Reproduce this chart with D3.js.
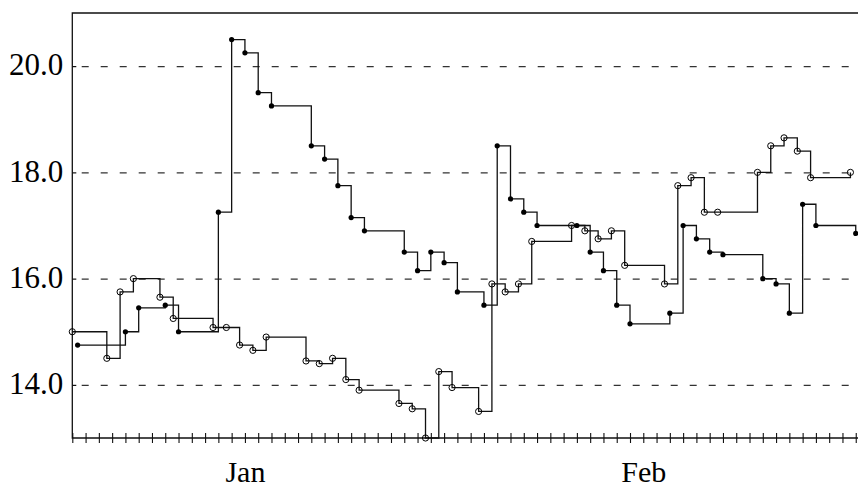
<!DOCTYPE html>
<html>
<head>
<meta charset="utf-8">
<script src="https://cdn.jsdelivr.net/npm/d3@7"></script>
<style>
  body { margin: 0; background: #fff; }
  svg { display: block; }
</style>
</head>
<body>
<svg class="chart" width="858" height="489"></svg>
<script>
/****************************************************************
    Data (days counted from the start date)
/****************************************************************/
const filledDays = [0.4, 4, 5, 7, 8, 11, 12, 13, 14, 15, 18, 19, 20, 21, 22, 25, 26, 27, 28, 29,
  31, 32, 33, 34, 35, 38, 39, 40, 41, 42, 45, 46, 47, 48, 49, 52, 53, 54, 55, 56, 59]
const filledValues = [14.75, 15.0, 15.45, 15.5, 15.0, 17.25, 20.5, 20.25, 19.5, 19.25, 18.5, 18.25, 17.75, 17.15, 16.9, 16.5, 16.15, 16.5, 16.3, 15.75,
  15.5, 18.5, 17.5, 17.25, 17.0, 17.0, 16.5, 16.15, 15.5, 15.15, 15.35, 17.0, 16.75, 16.5, 16.45, 16.0, 15.9, 15.35, 17.4, 17.0, 16.85]

const openDays = [0, 2.6, 3.6, 4.6, 6.6, 7.6, 10.6, 11.6, 12.6, 13.6, 14.6, 17.6, 18.6, 19.6, 20.6, 21.6, 24.6, 25.6, 26.6, 27.6, 28.6,
  30.6, 31.6, 32.6, 33.6, 34.6, 37.6, 38.6, 39.6, 40.6, 41.6, 44.6, 45.6, 46.6, 47.6, 48.6, 51.6, 52.6, 53.6, 54.6, 55.6, 58.6]
const openValues = [15.0, 14.5, 15.75, 16.0, 15.65, 15.25, 15.08, 15.08, 14.75, 14.65, 14.9, 14.45, 14.4, 14.5, 14.1, 13.9, 13.65, 13.55, 13.0, 14.25, 13.95,
  13.5, 15.9, 15.75, 15.9, 16.7, 17.0, 16.9, 16.75, 16.9, 16.25, 15.9, 17.75, 17.9, 17.25, 17.25, 18.0, 18.5, 18.65, 18.4, 17.9, 18.0]

const yTicks = [14, 16, 18, 20]
const monthLabels = ['Jan', 'Feb']
const monthLabelDays = [13, 43]

/****************************************************************
    Constant settings
/****************************************************************/
const settings = {
  left: 72.3, //x of the left axis
  right: 858, //the plot runs off the right edge
  top: 13, //y of the top border
  bottom: 438, //y of the date axis
  startDate: Date.UTC(2021, 0, 1), //day 0
  lastDay: 59.17, //day at the right edge
  yMin: 13,
  yMax: 21,
  font: '"Liberation Serif", "DejaVu Serif", serif',
  fontSize: '31px',
  lineColor: '#111',
  lineWidth: 1.3,
  gridColor: '#333',
  dotRadius: 2.6,
  ringRadius: 3.1
}

const toDate = d => new Date(settings.startDate + d * 864e5)

const svg = d3.select('.chart')

const x = d3.scaleUtc()
  .domain([toDate(0), toDate(settings.lastDay)])
  .range([settings.left, settings.right])

const y = d3.scaleLinear()
  .domain([settings.yMin, settings.yMax])
  .range([settings.bottom, settings.top])

/****************************************************************
    Dashed grid
/****************************************************************/
svg.append('g')
  .attr('transform', `translate(${settings.left},0)`)
  .call(d3.axisLeft(y).tickValues(yTicks).tickSize(-(settings.right - settings.left)).tickFormat(''))
  .call(g => g.select('.domain').remove())
  .call(g => g.selectAll('.tick line')
    .attr('stroke', settings.gridColor)
    .attr('stroke-width', 1.2)
    .attr('stroke-dasharray', '7,12')
    .attr('stroke-dashoffset', 9.6))

/****************************************************************
    Frame and axes
/****************************************************************/
svg.append('path')
  .attr('d', `M${settings.right},${settings.top}H${settings.left}V${settings.bottom}H${settings.right}`)
  .attr('fill', 'none')
  .attr('stroke', settings.lineColor)
  .attr('stroke-width', 1.3)

// day ticks crossing the date axis
svg.append('g')
  .attr('transform', `translate(0,${settings.bottom})`)
  .call(d3.axisBottom(x).ticks(d3.utcDay.every(1)).tickFormat(''))
  .call(g => g.select('.domain').remove())
  .call(g => g.selectAll('.tick line')
    .attr('y1', -5)
    .attr('y2', 5)
    .attr('stroke', settings.lineColor)
    .attr('stroke-width', 1.1))

// month names
svg.append('g')
  .attr('transform', `translate(0,${settings.bottom})`)
  .call(d3.axisBottom(x)
    .tickValues(monthLabelDays.map(toDate))
    .tickSize(0)
    .tickPadding(23)
    .tickFormat((d, i) => monthLabels[i]))
  .call(g => g.select('.domain').remove())
  .call(g => g.selectAll('text')
    .attr('font-family', settings.font)
    .attr('font-size', '30px')
    .attr('fill', '#000'))

svg.append('g')
  .attr('transform', `translate(${settings.left},0)`)
  .call(d3.axisLeft(y).tickValues(yTicks).tickSize(-4).tickPadding(9).tickFormat(d3.format('.1f')))
  .call(g => g.select('.domain').remove())
  .call(g => g.selectAll('.tick line').attr('stroke', settings.lineColor).attr('stroke-width', 1.2))
  .call(g => g.selectAll('text')
    .attr('dy', '0.28em')
    .attr('font-family', settings.font)
    .attr('font-size', settings.fontSize)
    .attr('fill', '#000'))

/****************************************************************
    Step lines and markers
/****************************************************************/
const step = d3.line()
  .x(d => x(toDate(d[0])))
  .y(d => y(d[1]))
  .curve(d3.curveStepAfter)

const filled = d3.zip(filledDays, filledValues)
const open = d3.zip(openDays, openValues)

for (const series of [filled, open]) {
  svg.append('path')
    .datum(series)
    .attr('d', step)
    .attr('fill', 'none')
    .attr('stroke', settings.lineColor)
    .attr('stroke-width', settings.lineWidth)
}

svg.append('g')
  .selectAll('circle')
  .data(filled)
  .join('circle')
  .attr('cx', d => x(toDate(d[0])))
  .attr('cy', d => y(d[1]))
  .attr('r', settings.dotRadius)
  .attr('fill', '#000')

svg.append('g')
  .selectAll('circle')
  .data(open)
  .join('circle')
  .attr('cx', d => x(toDate(d[0])))
  .attr('cy', d => y(d[1]))
  .attr('r', settings.ringRadius)
  .attr('fill', 'none')
  .attr('stroke', '#000')
  .attr('stroke-width', 1)
</script>
</body>
</html>
